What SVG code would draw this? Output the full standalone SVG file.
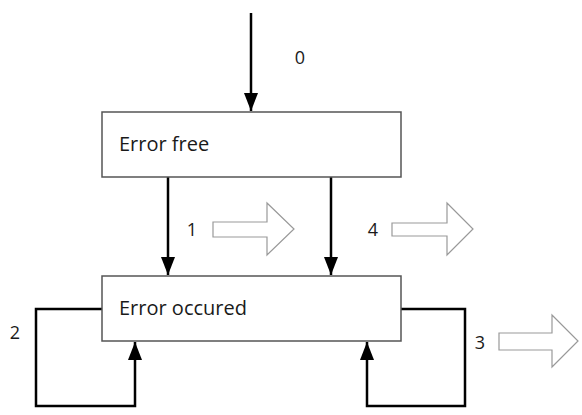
<svg xmlns="http://www.w3.org/2000/svg" width="582" height="415" viewBox="0 0 582 415">
<style>
.box{fill:#fff;stroke:#555;stroke-width:1.5}
.t{font-family:"Open Sans","Liberation Sans",sans-serif;font-size:20px;fill:#1a1a1a}
.n{font-family:"Open Sans","Liberation Sans",sans-serif;font-size:18px;fill:#1a1a1a;text-anchor:middle}
.c{fill:none;stroke:#000;stroke-width:2.5}
.h{fill:#fff;stroke:#999;stroke-width:1.2;stroke-linejoin:miter}
</style>
<defs>
<marker id="ah" markerWidth="18" markerHeight="14" refX="18" refY="7" orient="auto" markerUnits="userSpaceOnUse" viewBox="0 0 18 14">
<path d="M0,0 L18,7 L0,14 Z" fill="#000"/>
</marker>
</defs>
<rect width="582" height="415" fill="#fff"/>
<g id="connectors">
<path class="c" d="M251,13 V111" marker-end="url(#ah)"/>
<path class="c" d="M168,177 V275" marker-end="url(#ah)"/>
<path class="c" d="M331,177 V275" marker-end="url(#ah)"/>
<path class="c" d="M102,309 H36 V406 H135 V342" marker-end="url(#ah)"/>
<path class="c" d="M401,309 H465 V406 H367 V342" marker-end="url(#ah)"/>
</g>
<g id="error-free">
<rect class="box" x="102" y="112" width="299" height="65"/>
<text class="t" x="119" y="151">Error free</text>
</g>
<g id="error-occured">
<rect class="box" x="102" y="276" width="299" height="65"/>
<text class="t" x="119" y="315">Error occured</text>
</g>
<g id="labels">
<text class="n" x="300" y="64">0</text>
<text class="n" x="192" y="236">1</text>
<text class="n" x="15" y="339">2</text>
<text class="n" x="480" y="349">3</text>
<text class="n" x="373" y="236">4</text>
</g>
<g id="hollow-arrows">
<path class="h" d="M213,222 H267 V203 L294,229 L267,255 V237 H213 Z"/>
<path class="h" d="M392,223 H447 V203 L473,229 L447,255 V236 H392 Z"/>
<path class="h" d="M499,333 H552 V315 L578,341 L552,367 V350 H499 Z"/>
</g>
</svg>
